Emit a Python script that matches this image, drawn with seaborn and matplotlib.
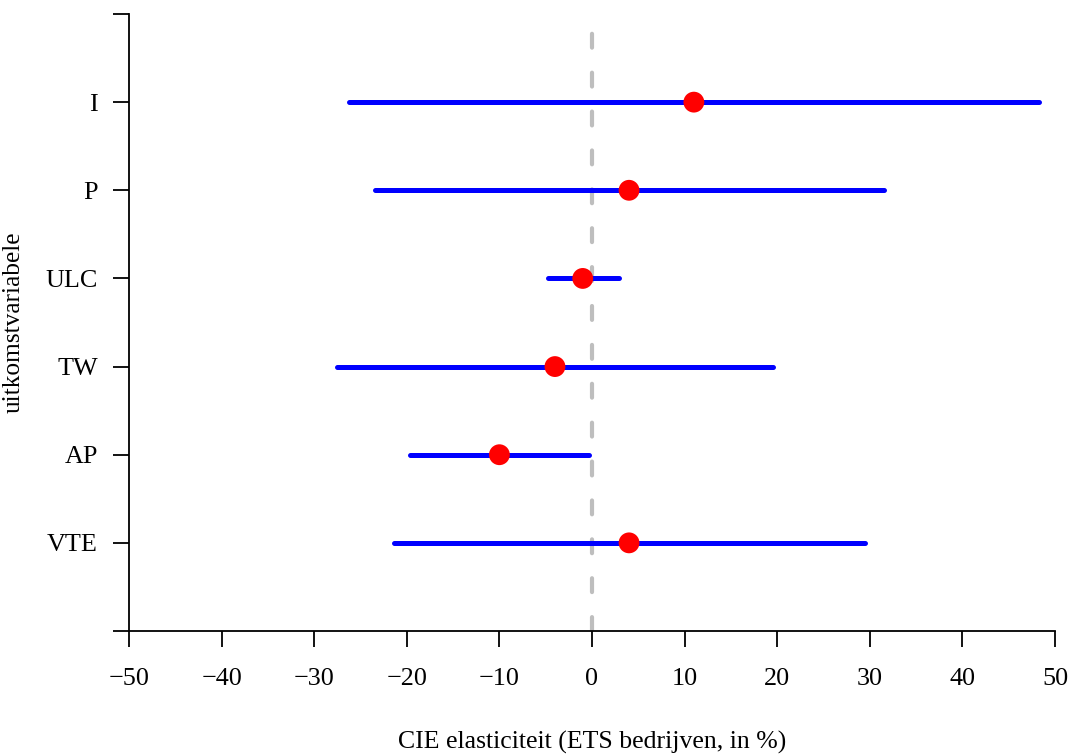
import matplotlib
matplotlib.use("Agg")
import matplotlib.pyplot as plt
import numpy as np
import pandas as pd
import seaborn as sns

# Outcome variables, top to bottom
outcomes = ["I", "P", "ULC", "TW", "AP", "VTE"]
# Point estimates and confidence bounds (%)
estimate = [11.0, 4.0, -1.0, -4.0, -10.0, 4.0]
lower = [-26.2, -23.4, -4.8, -27.5, -19.7, -21.4]
upper = [48.3, 31.5, 2.9, 19.5, -0.3, 29.5]
x_ticks = [-50, -40, -30, -20, -10, 0, 10, 20, 30, 40, 50]

sns.set_theme(style="ticks")
plt.rcParams["font.family"] = ["Liberation Serif", "DejaVu Serif"]
plt.rcParams["lines.scale_dashes"] = False

n = len(outcomes)
df = pd.DataFrame({
    "outcome": outcomes,
    "pos": np.arange(n, 0, -1),
    "est": estimate,
    "lo": lower,
    "hi": upper,
})

fig = plt.figure(figsize=(10.70, 7.54), dpi=100)
ax = fig.add_axes([129 / 1070, 1 - 631 / 754, (1055 - 129) / 1070, (631 - 14) / 754])

# reference line at zero
ax.plot([0, 0], [0, n + 1], color="#BEBEBE", lw=3.0, dashes=(10, 18),
        dash_capstyle="round", zorder=1)

# confidence intervals
ax.hlines(df["pos"], df["lo"], df["hi"], colors="#0000FF", lw=3.6,
          capstyle="round", zorder=2)

# point estimates
sns.scatterplot(data=df, x="est", y="pos", color="#FF0000", s=225,
                edgecolor="none", linewidth=0, zorder=3, ax=ax, legend=False)

ax.set_xlim(-50, 50)
ax.set_ylim(0, n + 1)
ax.set_xticks(x_ticks)
ax.set_xticklabels([f"{v}".replace("-", "\u2212") for v in x_ticks])
ax.set_yticks(np.arange(0, n + 2))
ax.set_yticklabels([""] + outcomes[::-1] + [""])

for side in ["top", "right"]:
    ax.spines[side].set_visible(False)
for side in ["left", "bottom"]:
    ax.spines[side].set_linewidth(1.3)
    ax.spines[side].set_color("black")

ax.tick_params(axis="x", length=11.5, width=1.3, pad=15, labelsize=18.8,
               colors="black")
ax.tick_params(axis="y", length=11.5, width=1.3, pad=11, labelsize=18.8,
               colors="black")

ax.set_xlabel("CIE elasticiteit (ETS bedrijven, in %)", fontsize=18.5, color="black")
ax.set_ylabel("uitkomstvariabele", fontsize=18.3, color="black")
ax.xaxis.set_label_coords(0.5, (631 - 742) / 617)
ax.xaxis.label.set_va("center")
ax.yaxis.set_label_coords((14 - 129) / 926, 0.5)
ax.yaxis.label.set_va("center")
ax.grid(False)

fig.savefig("out.png", dpi=100, facecolor="white")
